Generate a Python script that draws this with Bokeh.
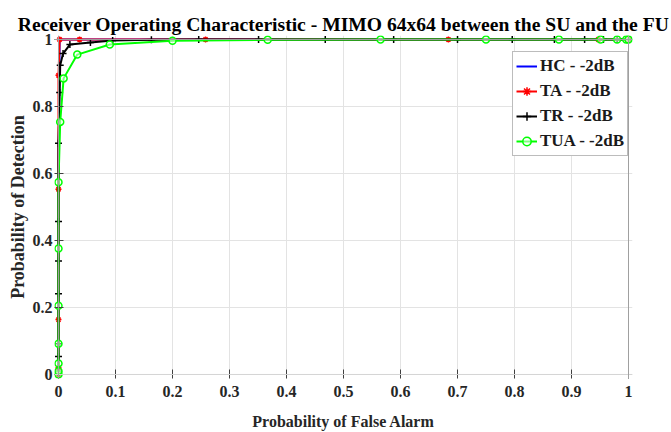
from bokeh.plotting import figure
from bokeh.models import Range1d, FixedTicker, Legend, LegendItem, Span
from bokeh.embed import file_html
from bokeh.resources import INLINE

# ---- data ----
title_text = "Receiver Operating Characteristic - MIMO 64x64 between the SU and the FU"
x_label = "Probability of False Alarm"
y_label = "Probability of Detection"

x_ticks = [0, 0.1, 0.2, 0.3, 0.4, 0.5, 0.6, 0.7, 0.8, 0.9, 1.0]
x_tick_labels = ["0", "0.1", "0.2", "0.3", "0.4", "0.5", "0.6", "0.7", "0.8", "0.9", "1"]
y_ticks = [0, 0.2, 0.4, 0.6, 0.8, 1.0]
y_tick_labels = ["0", "0.2", "0.4", "0.6", "0.8", "1"]

series_names = ["HC - -2dB", "TA - -2dB", "TR - -2dB", "TUA - -2dB"]

# HC (hidden under TA)
hc_pfa = [0, 0, 0, 0.002, 0.037, 0.258, 0.684, 0.947, 1.0]
hc_pd = [0, 0.164, 0.553, 1.0, 1.0, 1.0, 1.0, 1.0, 1.0]

# TA
ta_pfa = [0, 0, 0, 0, 0, 0.002, 0.037, 0.258, 0.684, 0.947, 1.0]
ta_pd = [0, 0.02, 0.164, 0.553, 0.893, 1.0, 1.0, 1.0, 1.0, 1.0, 1.0]

# TR
tr_pfa = [0, 0, 0, 0, 0, 0, 0, 0, 0.002, 0.003, 0.008, 0.02, 0.056, 0.095, 0.163,
          0.246, 0.351, 0.468, 0.588, 0.7, 0.796, 0.87, 0.923, 0.956, 0.98, 1.0]
tr_pd = [0, 0.01, 0.054, 0.092, 0.241, 0.339, 0.457, 0.69, 0.842, 0.923, 0.958, 0.985,
         0.991, 0.997, 0.999, 1.0, 1.0, 1.0, 1.0, 1.0, 1.0, 1.0, 1.0, 1.0, 1.0, 1.0]

# TUA
tua_pfa = [0, 0, 0, 0, 0, 0, 0, 0.003, 0.009, 0.033, 0.09, 0.2, 0.367, 0.565,
           0.75, 0.878, 0.951, 0.98, 0.996, 1.0]
tua_pd = [0, 0.01, 0.033, 0.092, 0.205, 0.376, 0.574, 0.754, 0.884, 0.955, 0.985,
          0.996, 0.999, 1.0, 1.0, 1.0, 1.0, 1.0, 1.0, 1.0]

FONT = "Liberation Serif"

# small padding so that markers on the 0/1 edges are not clipped
PX = 0.007
PY = 0.012

p = figure(width=671, height=432,
           x_range=Range1d(-PX, 1 + PX), y_range=Range1d(-PY, 1 + PY),
           output_backend="svg", toolbar_location=None,
           min_border_left=54, min_border_right=39, min_border_top=35, min_border_bottom=53)

p.title.text = title_text
p.title.text_font = FONT
p.title.text_font_style = "bold"
p.title.text_font_size = "19.6px"
p.title.align = "center"
p.title.offset = -8
p.title.standoff = 2
p.title.text_color = "black"

p.outline_line_color = None
p.background_fill_color = "white"
p.border_fill_color = "white"

for ax in (p.xaxis[0], p.yaxis[0]):
    ax.major_tick_in = 9
    ax.major_tick_out = 0
    ax.minor_tick_in = 0
    ax.minor_tick_out = 0
    ax.axis_line_color = None
    ax.major_tick_line_color = "#404040"
    ax.major_label_text_font = FONT
    ax.major_label_text_font_style = "bold"
    ax.major_label_text_font_size = "16px"
    ax.major_label_text_color = "#262626"
    ax.axis_label_text_font = FONT
    ax.axis_label_text_font_style = "bold"
    ax.axis_label_text_color = "#262626"

p.xaxis.axis_label_text_font_size = "16px"
p.yaxis.axis_label_text_font_size = "18px"

p.xaxis.ticker = FixedTicker(ticks=x_ticks)
p.xaxis.major_label_overrides = {t: l for t, l in zip(x_ticks, x_tick_labels)}
p.yaxis.ticker = FixedTicker(ticks=y_ticks)
p.yaxis.major_label_overrides = {t: l for t, l in zip(y_ticks, y_tick_labels)}
p.xaxis.axis_label = x_label
p.yaxis.axis_label = y_label
p.xaxis.major_label_standoff = 7
p.yaxis.major_label_standoff = 2
p.xaxis.axis_label_standoff = 13
p.yaxis.axis_label_standoff = 2

p.xgrid.grid_line_color = "#e3e3e3"
p.ygrid.grid_line_color = "#e3e3e3"

# box lines at the data limits (MATLAB style axes box)
p.add_layout(Span(location=0, dimension="width", line_color="#d4d4d4", line_width=1))
p.add_layout(Span(location=1, dimension="width", line_color="#a0a0a0", line_width=1))
p.add_layout(Span(location=0, dimension="height", line_color="#a0a0a0", line_width=1))
p.add_layout(Span(location=1, dimension="height", line_color="#a0a0a0", line_width=1))

r_hc = p.line(hc_pfa, hc_pd, line_color="blue", line_width=2)

r_ta_l = p.line(ta_pfa, ta_pd, line_color="red", line_width=2)
r_ta_m = p.scatter(ta_pfa, ta_pd, marker="asterisk", size=6, line_color="red", line_width=1.5)

r_tr_l = p.line(tr_pfa, tr_pd, line_color="black", line_width=2)
r_tr_m = p.scatter(tr_pfa, tr_pd, marker="cross", size=7, line_color="black", line_width=1.5)

r_tua_l = p.line(tua_pfa, tua_pd, line_color="#00ff00", line_width=2)
r_tua_m = p.scatter(tua_pfa, tua_pd, marker="circle", size=7, line_color="#00ff00",
                    line_width=1.5, fill_color="white", fill_alpha=0.5)

legend = Legend(items=[
    LegendItem(label=series_names[0], renderers=[r_hc]),
    LegendItem(label=series_names[1], renderers=[r_ta_l, r_ta_m]),
    LegendItem(label=series_names[2], renderers=[r_tr_l, r_tr_m]),
    LegendItem(label=series_names[3], renderers=[r_tua_l, r_tua_m]),
], location=(458, 222))
legend.margin = 0
legend.padding = 3
legend.spacing = 3
legend.glyph_width = 21
legend.glyph_height = 22
legend.label_height = 22
legend.label_standoff = 3
legend.label_text_font = FONT
legend.label_text_font_style = "bold"
legend.label_text_font_size = "17px"
legend.label_text_color = "#1a1a1a"
legend.border_line_color = "#7a7a7a"
legend.background_fill_color = "white"
legend.background_fill_alpha = 1
p.add_layout(legend)

open("out.html", "w").write(file_html(p, INLINE))
